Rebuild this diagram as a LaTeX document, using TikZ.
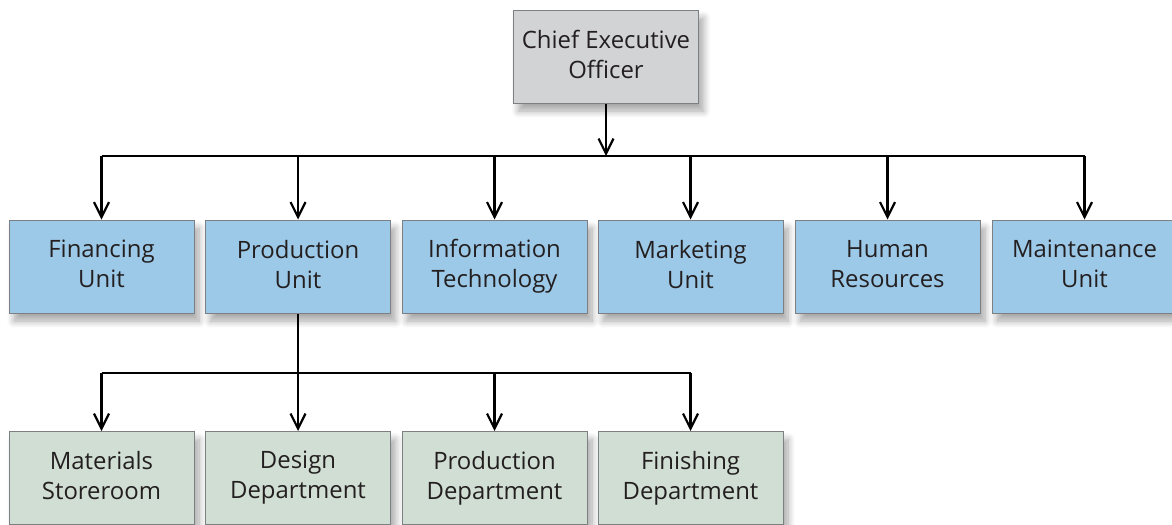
\documentclass[tikz,border=0pt]{standalone}
\usepackage{fontspec}
\setmainfont{Open Sans}
\usetikzlibrary{arrows.meta,shadows,shadows.blur,positioning}
\definecolor{ceogray}{RGB}{210,211,213}
\definecolor{unitblue}{RGB}{157,201,232}
\definecolor{deptgreen}{RGB}{209,222,211}
\definecolor{boxedge}{RGB}{125,128,130}
\definecolor{inktext}{RGB}{35,31,32}
\tikzstyle{org}=[
  >={Straight Barb[length=15bp,width=15bp]}, line width=2.2bp,
  font=\fontsize{24}{30}\selectfont
]
\tikzstyle{orgbox}=[
  draw=boxedge, line width=1bp, minimum width=185bp, minimum height=93bp,
  align=center, inner sep=0pt, text=inktext,
  execute at begin node={\rule{0pt}{25bp}},
  execute at end node={\rule[-5bp]{0pt}{5bp}},
  blur shadow={shadow xshift=5bp, shadow yshift=-8bp, shadow blur steps=8,
    shadow blur radius=7bp, shadow opacity=35}
]
\tikzstyle{ceobox}=[orgbox, fill=ceogray]
\tikzstyle{unitbox}=[orgbox, fill=unitblue]
\tikzstyle{deptbox}=[orgbox, fill=deptgreen]

\begin{document}
\begin{tikzpicture}[org]
    \useasboundingbox (0bp,0bp) rectangle (1172bp,-525bp);
    % top
    \node (ceo) at (606bp,-56.5bp) [ceobox] {Chief Executive\\Officer};
    % units
    \node (fin) at (101.5bp,-266.5bp) [unitbox] {Financing\\Unit};
    \node (prod) at (298bp,-266.5bp) [unitbox] {Production\\Unit};
    \node (it) at (494.5bp,-266.5bp) [unitbox] {Information\\Technology};
    \node (mkt) at (690.5bp,-266.5bp) [unitbox] {Marketing\\Unit};
    \node (hr) at (887.5bp,-266.5bp) [unitbox] {Human\\Resources};
    \node (maint) at (1084.5bp,-266.5bp) [unitbox] {Maintenance\\Unit};
    % departments
    \node (mat) at (101.5bp,-478bp) [deptbox] {Materials\\Storeroom};
    \node (des) at (298bp,-478bp) [deptbox] {Design\\Department};
    \node (pdep) at (494.5bp,-478bp) [deptbox] {Production\\Department};
    \node (fini) at (690.5bp,-478bp) [deptbox] {Finishing\\Department};
    % connectors
    \coordinate (busA) at (606bp,-156bp);
    \coordinate (busB) at (298bp,-373bp);
    \draw [->] (ceo.south) -- (busA);
    \draw (fin.north |- busA) -- (maint.north |- busA);
    \foreach \u in {fin,prod,it,mkt,hr,maint}
      \draw [->] (\u.north |- busA) -- (\u.north);
    \draw (prod.south) -- (busB);
    \draw (mat.north |- busB) -- (fini.north |- busB);
    \foreach \d in {mat,des,pdep,fini}
      \draw [->] (\d.north |- busB) -- (\d.north);
\end{tikzpicture}
\end{document}
